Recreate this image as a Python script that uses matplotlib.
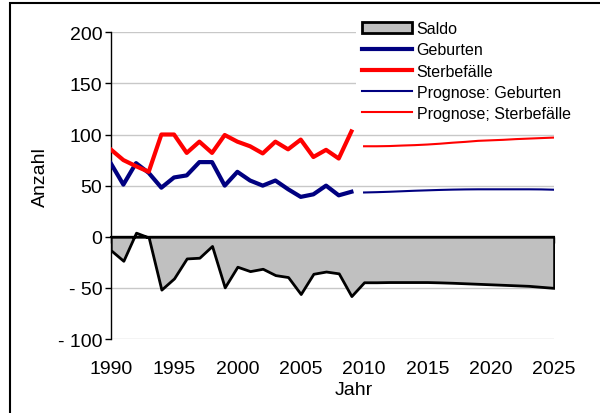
import numpy as np
import matplotlib.pyplot as plt
from matplotlib.patches import Rectangle

plt.rcParams['font.family'] = ['Liberation Sans', 'DejaVu Sans']

# === Daten ===
jahre = list(range(1990, 2010))
geburten = [72, 51, 72, 62.5, 48, 58, 60, 73, 73, 50,
            63.5, 55, 50, 55, 46.5, 39, 41.5, 50, 40.5, 44]
sterbefaelle = [85.5, 75, 69, 63.5, 100, 100, 82, 93, 82, 99.5,
                93, 88.5, 81.5, 93, 85.5, 95, 78, 85, 76.5, 103]

jahre_prog = list(range(2010, 2026))
prog_geburten = [43.3, 43.6, 44, 44.5, 45, 45.4, 45.8, 46.1,
                 46.3, 46.4, 46.4, 46.4, 46.4, 46.4, 46.3, 46]
prog_sterbefaelle = [88.5, 88.5, 88.7, 89.2, 89.6, 90.2, 91, 92,
                     92.8, 93.8, 94.3, 94.8, 95.5, 96, 96.5, 97]

jahre_saldo = list(range(1990, 2026))
saldo = [-13, -23.5, 4, -0.7, -51.7, -40.7, -21.2, -20.5, -9, -49.5,
         -29.3, -33.6, -31.3, -37.5, -39.4, -56, -36.2, -34, -35.8, -58,
         -44.5, -44.5, -44.3, -44.3, -44.3, -44.3, -44.6, -45, -45.5, -46,
         -46.5, -47, -47.5, -48, -49, -50]

y_ticks = [-100, -50, 0, 50, 100, 150, 200]
y_labels = ['- 100', '- 50', '0', '50', '100', '150', '200']
x_ticks = [1990, 1995, 2000, 2005, 2010, 2015, 2020, 2025]

# === Grafik ===
fig = plt.figure(figsize=(6, 4.14), dpi=100)
ax = fig.add_axes([0.1845, 0.1787, 0.739, 0.741])

ax.spines['top'].set_visible(False)
ax.spines['right'].set_visible(False)
ax.spines['bottom'].set_position(('data', 0))
ax.spines['bottom'].set_linewidth(1.5)
ax.spines['left'].set_linewidth(1)

ax.fill_between(jahre_saldo, saldo, 0, facecolor='#C0C0C0', edgecolor='black',
                lw=2, label='Saldo', zorder=2)
ax.plot(jahre, geburten, color='#000080', lw=3, label='Geburten', zorder=3)
ax.plot(jahre, sterbefaelle, color='#FF0000', lw=3, label='Sterbefälle', zorder=3)
ax.plot(jahre_prog, prog_geburten, color='#000080', lw=1.5,
        label='Prognose: Geburten', zorder=3)
ax.plot(jahre_prog, prog_sterbefaelle, color='#FF0000', lw=1.5,
        label='Prognose; Sterbefälle', zorder=3)

ax.set_xlim(1990, 2025)
ax.set_ylim(-100, 200)
ax.set_axisbelow(True)
for v in y_ticks:
    if v != 0:
        ax.axhline(v, color='#C8C8C8', lw=1, zorder=0)

ax.set_yticks(y_ticks)
ax.set_yticklabels(y_labels)
ax.set_xticks(x_ticks)
ax.set_xticklabels([str(x) for x in x_ticks])
ax.tick_params(axis='y', direction='out', length=4, width=1, pad=2, labelsize=14)
ax.tick_params(axis='x', direction='out', length=4, width=1, pad=85, labelsize=14)

ax.set_ylabel('Anzahl', fontsize=14)
ax.yaxis.set_label_coords(-0.139, 0.531)
ax.set_xlabel('Jahr', fontsize=14)
ax.xaxis.set_label_coords(0.549, -0.138)

leg = ax.legend(loc='upper left', bbox_to_anchor=(356 / 600, 1 - 16 / 414),
                bbox_transform=fig.transFigure, fontsize=11.5, frameon=True,
                framealpha=1, facecolor='white', edgecolor='none',
                fancybox=False, handlelength=3.1, handletextpad=0.3,
                labelspacing=0.38, borderaxespad=0)
leg.set_zorder(5)

# Rahmen
fig.patches.append(Rectangle((10 / 600, -0.1), 1.0, 1.1 - 4 / 414,
                             transform=fig.transFigure, fill=False,
                             edgecolor='black', lw=1.5))

fig.savefig('out.png', dpi=100)
